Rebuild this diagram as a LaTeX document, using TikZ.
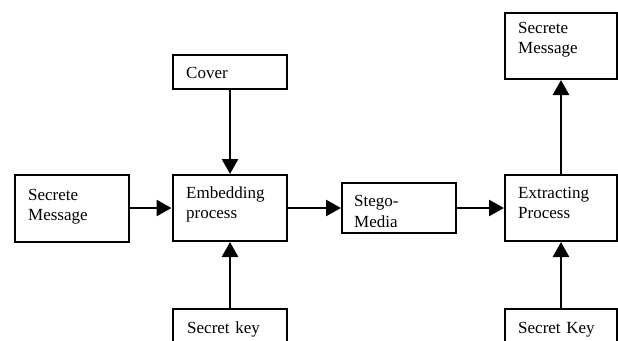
\documentclass[tikz,border=0pt]{standalone}
\usepackage{fontspec}
\setmainfont{Liberation Serif}
\usetikzlibrary{arrows.meta}
\tikzset{
  box/.style={draw=black, line width=2pt, fill=white, inner sep=0pt, minimum width=#1},
  box/.default=114pt,
  txt/.style={font=\fontsize{17}{20.5}\selectfont, align=left, text width=100pt,
              inner sep=0pt, anchor=base west},
  flow/.style={line width=2.7pt, -{Triangle[length=15pt,width=16pt]}}
}
\begin{document}
\begin{tikzpicture}[x=1pt, y=-1pt]
  \useasboundingbox (0,0) rectangle (618,340);
  % boxes
  \node[box, minimum height=67pt] (msgin)   at (72,208.5)  {};
  \node[box, minimum height=66pt] (embed)   at (229.5,208) {};
  \node[box, minimum height=34pt] (cover)   at (230,72)    {};
  \node[box, minimum height=47pt] (keyin)   at (230,332.5) {};
  \node[box, minimum height=50pt] (stego)   at (399,208)   {};
  \node[box=112pt, minimum height=66pt] (extract) at (561,208) {};
  \node[box=112pt, minimum height=66pt] (msgout)  at (561,46)  {};
  \node[box=112pt, minimum height=47pt] (keyout)  at (561,332.5) {};
  % labels
  \node[txt] (msginT)   at (28,200)   {Secrete\\Message};
  \node[txt] (embedT)   at (186,198)  {Embedding\\process};
  \node[txt] (coverT)   at (186,78)   {Cover};
  \node[txt] (keyinT)   at (187,333)  {Secret key};
  \node[txt] (stegoT)   at (354,206.5){Stego-\\Media};
  \node[txt] (extractT) at (518,198)  {Extracting\\Process};
  \node[txt] (msgoutT)  at (518,33)   {Secrete\\Message};
  \node[txt] (keyoutT)  at (518,333)  {Secret Key};
  % connectors
  \draw[flow] (msgin.east |- embed.west) -- (embed.west);
  \draw[flow] (embed.east) -- (stego.west);
  \draw[flow] (stego.east) -- (extract.west);
  \draw[flow] (cover.south) -- (cover.south |- embed.north);
  \draw[flow] (keyin.north) -- (keyin.north |- embed.south);
  \draw[flow] (extract.north) -- (msgout.south);
  \draw[flow] (keyout.north) -- (extract.south);
\end{tikzpicture}
\end{document}
